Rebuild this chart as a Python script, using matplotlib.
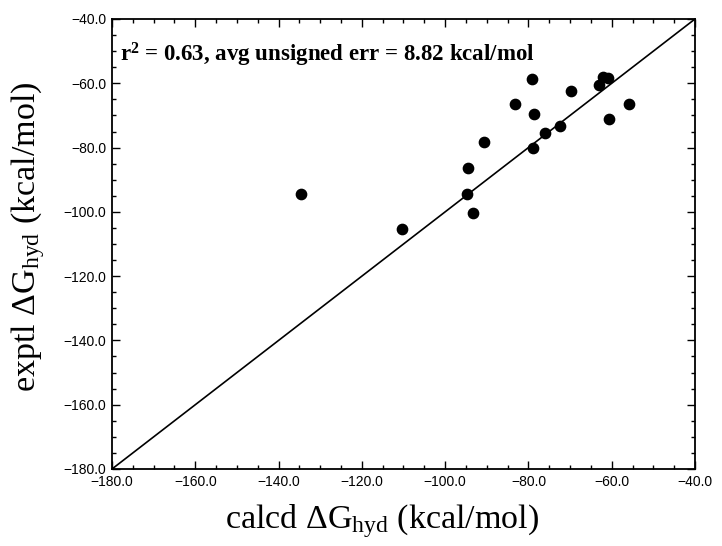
import matplotlib
matplotlib.use("Agg")
import matplotlib.pyplot as plt
from matplotlib.ticker import MultipleLocator, FuncFormatter

calcd = [-134.6, -94.6, -94.7, -93.4, -110.4, -79.1, -83.2, -78.7, -69.7,
         -62.0, -61.0, -63.0, -55.9, -60.6, -72.3, -76.1, -78.8, -90.6]
exptl = [-94.5, -86.5, -94.3, -100.3, -105.3, -58.6, -66.4, -69.6, -62.4,
         -58.1, -58.3, -60.4, -66.3, -71.2, -73.4, -75.5, -80.2, -78.4]
lims = [-180, -40]
annotation = r"r$^\mathbf{2}$ = 0.63, avg unsigned err = 8.82 kcal/mol"

plt.rcParams["mathtext.fontset"] = "custom"
plt.rcParams["mathtext.rm"] = "Liberation Serif"
plt.rcParams["mathtext.it"] = "Liberation Serif"
plt.rcParams["mathtext.bf"] = "Liberation Serif:bold"

fig = plt.figure(figsize=(7.22, 5.46), dpi=100)
ax = fig.add_axes([112/722, 1-469/546, (695-112)/722, (469-19)/546])

ax.plot(lims, lims, color="black", lw=1.2)
ax.scatter(calcd, exptl, s=55, color="black", zorder=3)

ax.set_xlim(lims)
ax.set_ylim(lims)
fmt = FuncFormatter(lambda v, p: ("%.1f" % v).replace("-", "\u2212"))
for axis in (ax.xaxis, ax.yaxis):
    axis.set_major_locator(MultipleLocator(20))
    axis.set_minor_locator(MultipleLocator(5))
    axis.set_major_formatter(fmt)
ax.tick_params(which="both", direction="in", top=True, right=True, width=1.0)
ax.tick_params(which="major", length=6, labelsize=10, pad=4)
ax.tick_params(which="minor", length=3)
for lab in ax.get_xticklabels() + ax.get_yticklabels():
    lab.set_family(["Liberation Sans", "DejaVu Sans"])
for s in ax.spines.values():
    s.set_linewidth(1.3)

serif = ["Liberation Serif", "DejaVu Serif"]
ax.set_xlabel(r"calcd $\Delta$G$_{\mathregular{hyd}}$ (kcal/mol)", fontsize=24.5, family=serif, labelpad=10)
ax.set_ylabel(r"exptl $\Delta$G$_{\mathregular{hyd}}$ (kcal/mol)", fontsize=24.5, family=serif, labelpad=12)
ax.xaxis.label.set_x(0.463)
ax.yaxis.label.set_y(0.516)
ax.text(0.013, 0.92, annotation, transform=ax.transAxes, fontsize=16.5,
        fontweight="bold", family=serif, va="center", ha="left")

fig.savefig("out.png", dpi=100)
